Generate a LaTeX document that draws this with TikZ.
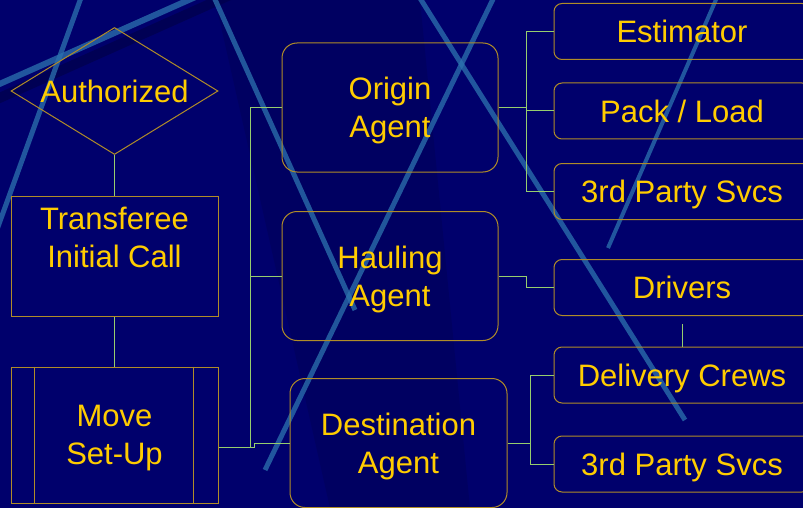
\documentclass[tikz,border=0pt]{standalone}
\usepackage{fontspec}
\setmainfont{Liberation Sans}
\usetikzlibrary{shapes.geometric}

\definecolor{navy}{RGB}{0,0,108}
\definecolor{deepnavy}{RGB}{0,0,78}
\definecolor{gold}{RGB}{255,204,0}
\definecolor{rim}{RGB}{176,140,40}
\definecolor{wire}{RGB}{150,205,110}
\definecolor{streak}{RGB}{45,115,175}

\begin{document}
\begin{tikzpicture}[x=1pt, y=-1pt,
    every node/.style={text=gold, font=\fontsize{31}{38}\selectfont, align=center, inner sep=0pt, text depth=0pt},
    flow/.style={draw=rim, line width=1pt},
    agent/.style={flow, rounded corners=15pt, minimum width=216pt, minimum height=129pt},
    task/.style={flow, rounded corners=8pt, minimum width=256pt, minimum height=56pt},
    link/.style={draw=wire, line width=1pt},
    ray/.style={draw=streak, line width=5pt, opacity=.75}]

    % backdrop
    \fill[navy] (0, 0) rectangle (803, 508);
    \clip (0, 0) rectangle (803, 508);
    \fill[deepnavy, opacity=.35] (215, 0) -- (420, 0) -- (470, 508) -- (330, 508) -- cycle;
    \draw[deepnavy, line width=10pt, opacity=.8] (-5, 100) -- (230, -5);
    \draw[ray, line width=6pt] (-5, 86) -- (200, -5);
    \draw[ray] (82, -5) -- (-5, 235);
    \draw[ray] (213, -5) -- (355, 310);
    \draw[ray] (418, -5) -- (685, 420);
    \draw[ray] (495, -5) -- (265, 470);
    \draw[ray, line width=4pt] (718, -5) -- (608, 248);

    % left column
    \node[flow, diamond, aspect=1.63, minimum width=207pt, minimum height=127pt] (auth) at (114.5, 91) {Authorized};
    \node[flow, minimum width=207pt, minimum height=120pt] (call) at (114.5, 256) {Transferee\\Initial Call\\~};
    \node[flow, minimum width=207pt, minimum height=136pt] (setup) at (114.5, 435) {Move\\Set-Up};
    \draw[flow] ([xshift=24pt]setup.north west) -- ([xshift=24pt]setup.south west);
    \draw[flow] ([xshift=-25pt]setup.north east) -- ([xshift=-25pt]setup.south east);

    % agents
    \node[agent] (origin) at (390, 107.5) {Origin\\Agent};
    \node[agent] (haul) at (390, 276) {Hauling\\Agent};
    \node[agent, minimum width=217pt] (dest) at (398.5, 443) {Destination\\Agent};

    % services
    \node[task] (est) at (682, 31.5) {Estimator};
    \node[task] (pack) at (682, 111) {Pack / Load};
    \node[task] (party1) at (682, 191.5) {3rd Party Svcs};
    \node[task] (drive) at (682, 287.5) {Drivers};
    \node[task] (crew) at (682, 375) {Delivery Crews};
    \node[task] (party2) at (682, 464) {3rd Party Svcs};

    % connectors
    \draw[link] (auth) -- (call);
    \draw[link] (call) -- (setup);
    \draw[link] ([yshift=-12pt]setup.east) -- ++(32, 0) |- (origin.west);
    \draw[link] ([yshift=-12pt]setup.east) -- ++(32, 0) |- (haul.west);
    \draw[link] ([yshift=-12pt]setup.east) -- ++(36, 0) |- (dest.west);

    \draw[link] (origin.east) -- ++(28, 0) |- (est.west);
    \draw[link] (origin.east) -- ++(28, 0) |- (pack.west);
    \draw[link] (origin.east) -- ++(28, 0) |- (party1.west);
    \draw[link] (haul.east) -- ++(28, 0) |- (drive.west);
    \draw[link, shorten <=8pt] (drive) -- (crew);
    \draw[link] (dest.east) -- ++(23, 0) |- (crew.west);
    \draw[link] (dest.east) -- ++(23, 0) |- (party2.west);
\end{tikzpicture}
\end{document}
